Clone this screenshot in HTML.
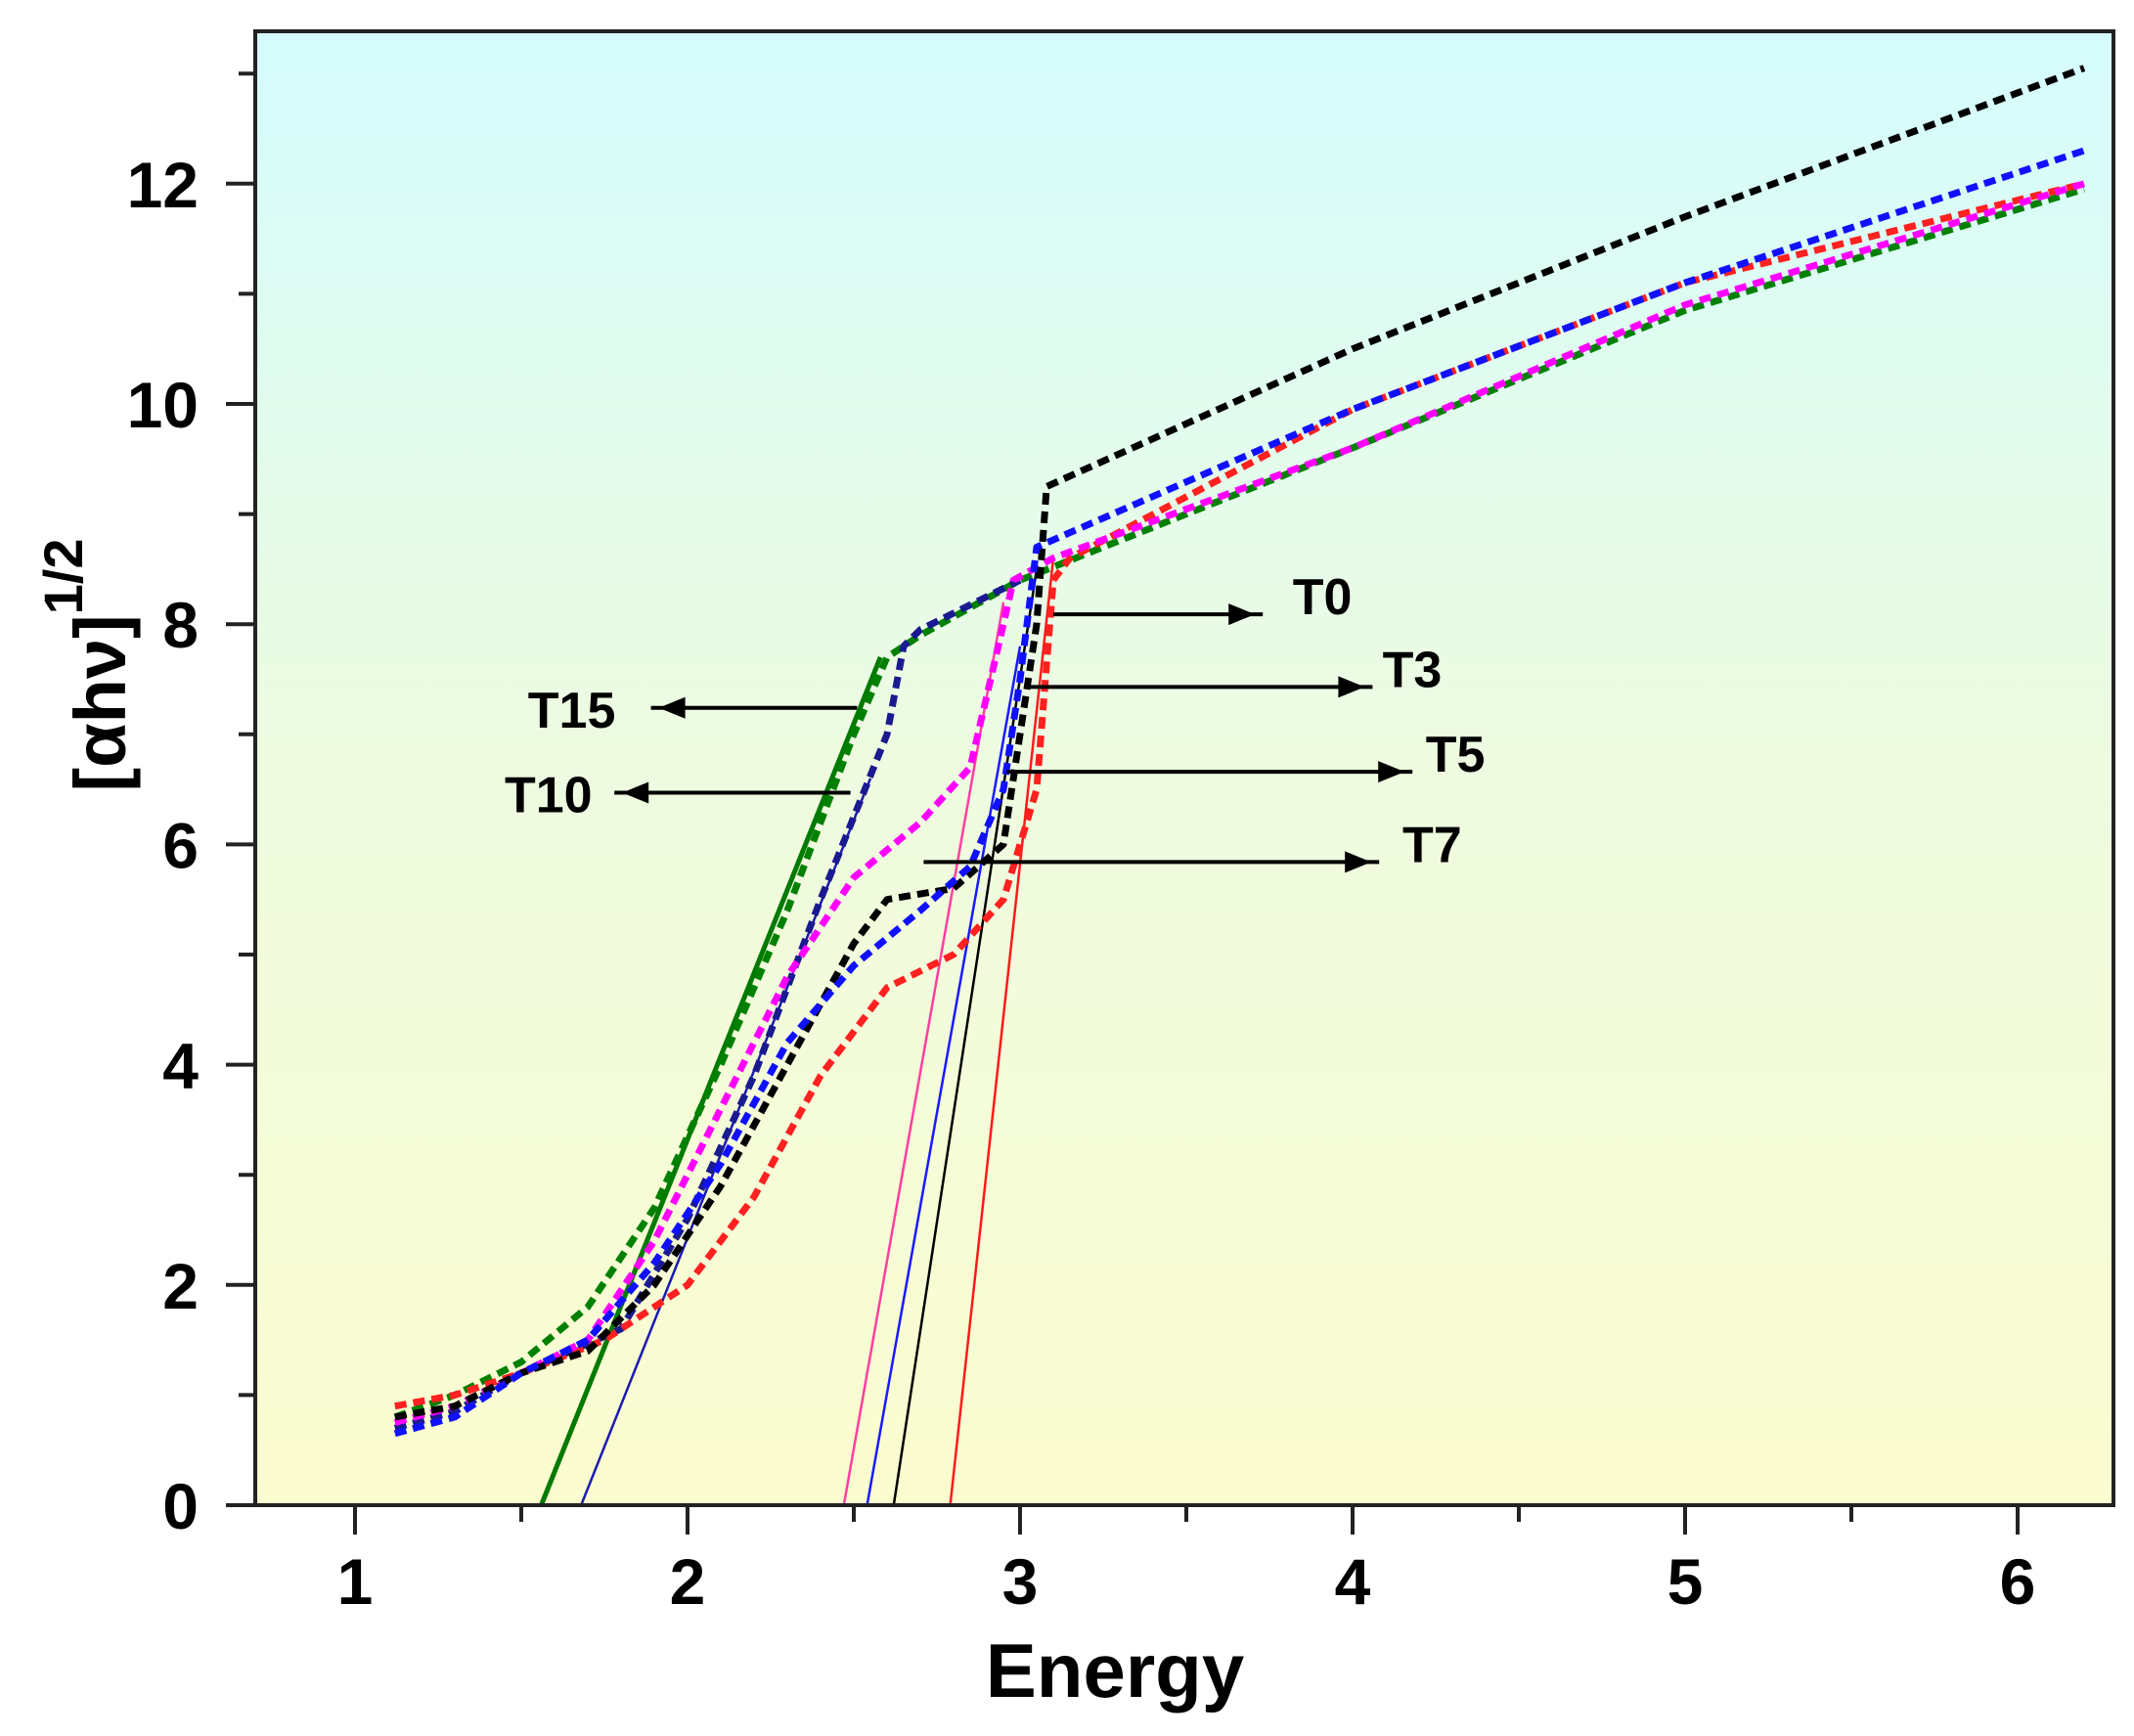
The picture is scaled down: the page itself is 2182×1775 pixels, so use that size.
<!DOCTYPE html>
<html><head><meta charset="utf-8"><style>
html,body{margin:0;padding:0;background:#fff}
svg{display:block}
text{font-family:"Liberation Sans",sans-serif;font-weight:bold;fill:#000}
</style></head><body>
<svg id="chart" width="2182" height="1775" viewBox="0 0 2182 1775" xmlns="http://www.w3.org/2000/svg">
<defs>
<linearGradient id="bg" x1="0" y1="0" x2="0" y2="1">
<stop offset="0" stop-color="#d5fcfd"/><stop offset="0.5" stop-color="#eefbe0"/><stop offset="1" stop-color="#fbfccf"/>
</linearGradient>
</defs>
<rect x="261" y="32" width="1900" height="1507" fill="url(#bg)"/>
<g id="series"></g>
<g id="annot"></g>
<g id="axes"></g>
<text x="1140" y="1735" font-size="78" text-anchor="middle">Energy</text>
<g transform="translate(128,680) rotate(-90)">
<text x="0" y="0" font-size="74" text-anchor="middle">[αhν]<tspan font-size="56" dy="-44">1/2</tspan></text>
</g>
</svg>
<script>
const xTicks=[1,2,3,4,5,6];
const yTicks=[0,2,4,6,8,10,12];
const xT0=[1.12,1.3,1.5,1.7,1.9,2.1,2.3,2.5,2.6,2.8,2.95,3.0,3.05,3.08,4,5,6.2];
const yT0=[0.8,0.9,1.2,1.4,2.0,2.9,4.0,5.1,5.5,5.6,6.0,7.0,8.0,9.25,10.5,11.7,13.05];
const xRed=[1.12,1.3,1.5,1.75,2.0,2.2,2.4,2.6,2.8,2.95,3.05,3.1,3.15,4,5,6.2];
const yRed=[0.9,1.0,1.2,1.5,2.0,2.8,3.9,4.7,5.0,5.5,6.5,8.4,8.6,9.95,11.1,12.0];
const xBlue=[1.12,1.3,1.5,1.7,1.9,2.1,2.3,2.5,2.7,2.85,2.95,3.0,3.05,4,5,6.2];
const yBlue=[0.65,0.8,1.2,1.5,2.2,3.1,4.2,4.9,5.4,5.8,6.5,7.5,8.7,9.95,11.1,12.3];
const xMag=[1.12,1.3,1.5,1.7,1.9,2.1,2.3,2.5,2.7,2.85,2.95,2.98,3.1,4,5,6.2];
const yMag=[0.75,0.9,1.2,1.5,2.4,3.6,4.8,5.7,6.2,6.7,8.0,8.4,8.6,9.6,10.9,12.0];
const xGreen=[1.12,1.3,1.5,1.7,1.9,2.1,2.3,2.5,2.6,2.7,3.0,4,5,6.2];
const yGreen=[0.8,1.0,1.3,1.8,2.7,4.0,5.4,7.0,7.7,7.9,8.4,9.6,10.85,11.95];
const xNavy=[1.12,1.3,1.5,1.8,2.0,2.2,2.4,2.6,2.65,2.7,3.0];
const yNavy=[0.7,0.85,1.2,1.6,2.6,3.9,5.5,7.0,7.8,7.95,8.4];
const fitNames=['fit-t15','fit-t10','fit-t7','fit-t5','fit-t3','fit-t0'];
const fitX0=[1.56,1.68,2.47,2.54,2.62,2.79];
const fitX1=[2.58,2.55,2.95,3.0,3.05,3.1];
const fitY1=[7.7,6.6,8.2,7.8,8.5,8.6];
const annLabels=['T0','T3','T5','T7','T15','T10'];
const annY=[8.09,7.43,6.66,5.84,7.24,6.47];
const annFrom=[3.10,3.02,2.96,2.71,2.51,2.49];
const annTo=[3.73,4.06,4.18,4.08,1.89,1.78];
const annLabelX=[3.82,4.09,4.22,4.15,1.52,1.45];

const NS='http://www.w3.org/2000/svg';
const X=v=>363+340*(v-1);
const Y=v=>1539-112.6*v;
function mk(tag,attrs,parent){const e=document.createElementNS(NS,tag);for(const k in attrs)e.setAttribute(k,attrs[k]);parent.appendChild(e);return e;}
const S=document.getElementById('series'),A=document.getElementById('annot'),AX=document.getElementById('axes');

const fitColors=['#007a00','#1a1ab0','#ff3fa0','#1a1aff','#000','#ff1a1a'];
fitNames.forEach((n,i)=>{
 const l=mk('line',{x1:X(fitX0[i]),y1:Y(0),x2:X(fitX1[i]),y2:Y(fitY1[i]),stroke:fitColors[i],'stroke-width':i==0?5:2.5},S);
 
 
});
function series(xs,ys,col,name){
 const d=xs.map((x,i)=>(i?'L':'M')+X(x).toFixed(1)+','+Y(ys[i]).toFixed(1)).join(' ');
 const p=mk('path',{d:d,fill:'none',stroke:col,'stroke-width':7,'stroke-dasharray':'12,7','stroke-linejoin':'round'},S);
 
 
}
series(xGreen,yGreen,'#008000','series-t15');
series(xNavy,yNavy,'#1a1a90','series-t10');
series(xRed,yRed,'#ff2020','series-red');
series(xMag,yMag,'#ff00ff','series-magenta');
series(xT0,yT0,'#000000','series-black');
series(xBlue,yBlue,'#1010ff','series-blue');

annLabels.forEach((t,i)=>{
 const y=Y(annY[i]),x1=X(annFrom[i]),x2=X(annTo[i]),dir=x2>x1?1:-1;
 const g=mk('g',{},A);
 
 
 mk('line',{x1:x1,y1:y,x2:x2,y2:y,stroke:'#000','stroke-width':4},g);
 const hx=x2-dir*30;
 mk('polygon',{points:`${hx-dir*5},${y-11} ${hx+dir*22},${y} ${hx-dir*5},${y+11}`,fill:'#000'},g);
 const tx=mk('text',{x:X(annLabelX[i]),y:y+(dir>0?0:20),'font-size':52},g);
 tx.textContent=t;
});

mk('rect',{x:261,y:32,width:1900,height:1507,fill:'none',stroke:'#222','stroke-width':4},AX);
for(let v=1;v<=6.01;v+=0.5){
 const maj=Math.abs(v-Math.round(v))<0.01;
 const t=mk('line',{x1:X(v),y1:1539,x2:X(v),y2:1539+(maj?30:17),stroke:'#222','stroke-width':4},AX);
 
 
}
xTicks.forEach(v=>{const t=mk('text',{x:X(v),y:1640,'font-size':66,'text-anchor':'middle'},AX);t.textContent=v;
 
 });
for(let v=0;v<=13;v+=1){
 const maj=v%2==0;
 const t=mk('line',{x1:261,y1:Y(v),x2:261-(maj?30:17),y2:Y(v),stroke:'#222','stroke-width':4},AX);
 
 
}
yTicks.forEach(v=>{const t=mk('text',{x:203,y:Y(v)+24,'font-size':66,'text-anchor':'end'},AX);t.textContent=v;
 
 });
</script>
</body></html>
